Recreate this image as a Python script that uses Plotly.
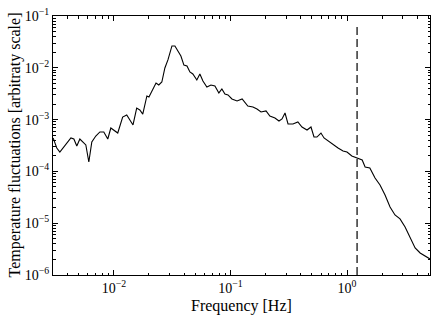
import plotly.graph_objects as go

freq = [3.01e-3, 3.24e-3, 3.44e-3, 3.79e-3, 4.28e-3, 4.54e-3, 4.81e-3, 5.11e-3, 5.75e-3, 6.10e-3,
        6.47e-3, 7.00e-3, 7.59e-3, 8.20e-3, 8.87e-3, 9.42e-3, 1.00e-2, 1.08e-2, 1.19e-2, 1.29e-2,
        1.46e-2, 1.57e-2, 1.67e-2, 1.77e-2, 1.92e-2, 2.00e-2, 2.30e-2, 2.43e-2, 2.58e-2, 2.74e-2,
        2.91e-2, 3.15e-2, 3.34e-2, 3.54e-2, 3.76e-2, 3.99e-2, 4.24e-2, 4.49e-2, 4.76e-2, 5.15e-2,
        5.47e-2, 5.81e-2, 6.28e-2, 6.81e-2, 7.36e-2, 7.96e-2, 8.45e-2, 8.97e-2, 9.53e-2, 0.103,
        0.114, 0.126, 0.133, 0.141, 0.156, 0.169, 0.183, 0.202, 0.218, 0.241,
        0.261, 0.277, 0.294, 0.312, 0.344, 0.379, 0.411, 0.454, 0.491, 0.521,
        0.552, 0.598, 0.635, 0.687, 0.759, 0.838, 0.925, 1.00, 1.10, 1.22,
        1.35, 1.43, 1.57, 1.74, 1.92, 2.12, 2.34, 2.58, 2.85, 3.15,
        3.48, 3.84, 4.24, 4.86, 5.15]

temp = [4.42e-4, 2.83e-4, 2.37e-4, 3.09e-4, 4.42e-4, 4.22e-4, 3.09e-4, 4.22e-4, 3.24e-4, 1.52e-4,
        3.70e-4, 4.82e-4, 5.77e-4, 5.77e-4, 4.22e-4, 6.89e-4, 6.30e-4, 5.51e-4, 1.12e-3, 1.23e-3,
        7.87e-4, 1.67e-3, 1.53e-3, 1.28e-3, 2.86e-3, 2.73e-3, 5.09e-3, 4.66e-3, 5.32e-3, 9.91e-3,
        1.42e-2, 2.64e-2, 2.64e-2, 2.11e-2, 1.69e-2, 1.13e-2, 1.08e-2, 8.30e-3, 7.59e-3, 5.81e-3,
        7.59e-3, 5.56e-3, 4.26e-3, 4.66e-3, 4.46e-3, 3.27e-3, 3.90e-3, 3.12e-3, 2.99e-3, 2.50e-3,
        2.29e-3, 2.50e-3, 2.19e-3, 1.83e-3, 1.75e-3, 1.60e-3, 1.40e-3, 1.47e-3, 1.17e-3, 1.07e-3,
        9.40e-4, 1.03e-3, 1.34e-3, 8.22e-4, 8.22e-4, 8.99e-4, 7.19e-4, 6.30e-4, 7.19e-4, 4.61e-4,
        4.61e-4, 5.51e-4, 4.42e-4, 3.86e-4, 3.38e-4, 2.83e-4, 2.48e-4, 2.37e-4, 1.98e-4, 1.82e-4,
        1.66e-4, 1.22e-4, 1.16e-4, 7.46e-5, 5.46e-5, 3.50e-5, 2.06e-5, 1.44e-5, 1.21e-5, 8.45e-6,
        5.18e-6, 3.32e-6, 2.66e-6, 2.22e-6, 2.04e-6]

cutoff_freq = 1.22

x_tickvals = [1e-2, 1e-1, 1e0]
x_ticktext = ["10<sup>−2</sup>", "10<sup>−1</sup>", "10<sup>0</sup>"]
y_tickvals = [1e-6, 1e-5, 1e-4, 1e-3, 1e-2, 1e-1]
y_ticktext = ["10<sup>−6</sup>", "10<sup>−5</sup>", "10<sup>−4</sup>",
              "10<sup>−3</sup>", "10<sup>−2</sup>", "10<sup>−1</sup>"]

x_title = "Frequency [Hz]"
y_title = "Temperature fluctuations [arbitraty scale]"

# minor tick positions (2..9 within each decade)
x_minor = [m * 10.0 ** e for e in range(-3, 1) for m in range(2, 10)]
y_minor = [m * 10.0 ** e for e in range(-6, -1) for m in range(2, 10)]

fig = go.Figure()
fig.add_trace(go.Scatter(x=freq, y=temp, mode="lines",
                         line=dict(color="black", width=1.1), showlegend=False))

fig.add_shape(type="line", xref="x", yref="paper", x0=cutoff_freq, x1=cutoff_freq,
              y0=0, y1=0.965, line=dict(color="black", width=1.2, dash="8px,4px"))

font = "Liberation Serif, Times New Roman, serif"
axis_common = dict(type="log", showline=True, linecolor="black", linewidth=1,
                   mirror="ticks", ticks="inside", ticklen=5, tickcolor="black",
                   showgrid=False, zeroline=False, automargin=False,
                   tickfont=dict(family=font, size=14, color="black"))

fig.update_xaxes(range=[-2.522, 0.712], tickvals=x_tickvals, ticktext=x_ticktext,
                 minor=dict(tickvals=x_minor, ticks="inside", ticklen=2.5,
                            tickcolor="black", showgrid=False),
                 **axis_common)
fig.update_yaxes(range=[-6, -1], tickvals=y_tickvals, ticktext=y_ticktext,
                 minor=dict(tickvals=y_minor, ticks="inside", ticklen=2.5,
                            tickcolor="black", showgrid=False),
                 **axis_common)

fig.add_annotation(text=x_title, xref="paper", yref="paper", x=0.5, y=0,
                   yshift=-20, xanchor="center", yanchor="top", showarrow=False,
                   font=dict(family=font, size=16, color="black"))
fig.add_annotation(text=y_title, xref="paper", yref="paper", x=0, y=0.5,
                   xshift=-50, xanchor="left", yanchor="middle", textangle=-90,
                   showarrow=False, font=dict(family=font, size=16, color="black"))

fig.update_layout(width=436, height=317, margin=dict(l=53, r=6, t=16, b=42),
                  plot_bgcolor="white", paper_bgcolor="white",
                  font=dict(family=font, color="black"))

fig.write_html("out.html", config={"displayModeBar": False},
               post_script="document.body.style.margin='0';document.body.style.padding='0';")
